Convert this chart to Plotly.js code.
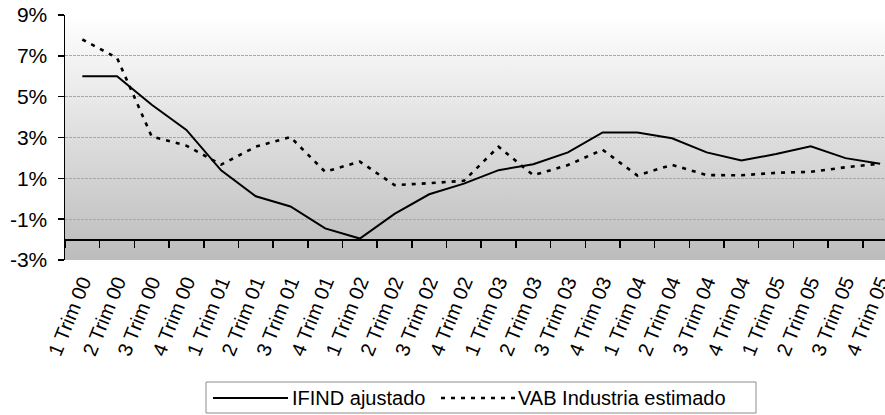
<!DOCTYPE html>
<html>
<head>
<meta charset="utf-8">
<script src="https://cdn.plot.ly/plotly-3.0.1.min.js"></script>
<style>
html,body{margin:0;padding:0;background:#fff;overflow:hidden;}
#chart{width:885px;height:415px;}
</style>
</head>
<body>
<div id="chart"></div>
<script>
const categories = [
  "1 Trim 00","2 Trim 00","3 Trim 00","4 Trim 00",
  "1 Trim 01","2 Trim 01","3 Trim 01","4 Trim 01",
  "1 Trim 02","2 Trim 02","3 Trim 02","4 Trim 02",
  "1 Trim 03","2 Trim 03","3 Trim 03","4 Trim 03",
  "1 Trim 04","2 Trim 04","3 Trim 04","4 Trim 04",
  "1 Trim 05","2 Trim 05","3 Trim 05","4 Trim 05"
];
const ifindAjustado = [6.0, 6.0, 4.6, 3.37, 1.39, 0.12, -0.38, -1.45, -1.95, -0.74, 0.22, 0.74,
  1.40, 1.69, 2.27, 3.25, 3.25, 2.96, 2.27, 1.87, 2.19, 2.57, 1.99, 1.71];
const vabIndustria = [7.8, 6.9, 3.05, 2.6, 1.67, 2.55, 3.02, 1.32, 1.82, 0.67, 0.76, 0.88,
  2.55, 1.15, 1.65, 2.4, 1.14, 1.66, 1.16, 1.15, 1.27, 1.32, 1.54, 1.72];
const seriesNames = ["IFIND ajustado", "VAB Industria estimado"];
const yTicks = [-3, -1, 1, 3, 5, 7, 9];
const yTickText = yTicks.map(v => v + "%");

const grad = '<svg xmlns="http://www.w3.org/2000/svg" width="100" height="100" viewBox="0 0 100 100" preserveAspectRatio="none">' +
  '<defs><linearGradient id="g" x1="0" y1="0" x2="0" y2="1">' +
  '<stop offset="0" stop-color="#ffffff"/><stop offset="1" stop-color="#bcbcbc"/>' +
  '</linearGradient></defs><rect x="0" y="0" width="100" height="100" fill="url(#g)"/></svg>';
const gradSrc = 'data:image/svg+xml;base64,' + btoa(grad);

const FAM = 'Arial, "Liberation Sans", sans-serif';
const solidStyle = {color: '#000', width: 2};
const dotStyle = {color: '#000', width: 2.6, dash: '4px,6px'};

const traces = [
  {x: categories, y: ifindAjustado, name: seriesNames[0], type: 'scatter', mode: 'lines', line: solidStyle},
  {x: categories, y: vabIndustria, name: seriesNames[1], type: 'scatter', mode: 'lines', line: dotStyle}
];

// custom legend (plot area: left 65, width 820, top 15, height 245)
const M = {l: 65, r: 0, t: 15, b: 155};
const PW = 885 - M.l - M.r, PH = 415 - M.t - M.b;
const px = v => (v - M.l) / PW;
const py = v => (415 - M.b - v) / PH;
const legY = 398;

const shapes = [
  {type: 'rect', xref: 'paper', yref: 'paper', x0: px(206), x1: px(756), y0: py(382), y1: py(413),
   line: {color: '#8c8c8c', width: 1}, fillcolor: '#fff', layer: 'above'},
  {type: 'line', xref: 'paper', yref: 'paper', x0: px(213), x1: px(288), y0: py(legY), y1: py(legY),
   line: solidStyle, layer: 'above'},
  {type: 'line', xref: 'paper', yref: 'paper', x0: px(441), x1: px(516), y0: py(legY), y1: py(legY),
   line: {color: '#000', width: 2.6, dash: '4px,6px'}, layer: 'above'}
];
const annotations = [
  {xref: 'paper', yref: 'paper', x: px(290), y: py(legY), xanchor: 'left', yanchor: 'middle',
   text: seriesNames[0], showarrow: false, font: {family: FAM, size: 20, color: '#000'}},
  {xref: 'paper', yref: 'paper', x: px(516), y: py(legY), xanchor: 'left', yanchor: 'middle',
   text: seriesNames[1], showarrow: false, font: {family: FAM, size: 20, color: '#000'}}
];

const layout = {
  width: 885, height: 415,
  margin: M,
  paper_bgcolor: '#fff',
  plot_bgcolor: 'rgba(0,0,0,0)',
  font: {family: FAM, size: 20, color: '#000'},
  showlegend: false,
  shapes: shapes,
  annotations: annotations,
  images: [{
    source: gradSrc, xref: 'paper', yref: 'paper', x: 0, y: 1,
    sizex: 1, sizey: 1, sizing: 'stretch', layer: 'below', xanchor: 'left', yanchor: 'top'
  }],
  xaxis: {
    type: 'category',
    categoryorder: 'array', categoryarray: categories,
    range: [-0.5, 23.14],
    anchor: 'free', position: 1/12,
    showline: true, linecolor: '#000', linewidth: 2,
    ticks: 'outside', tickson: 'boundaries', ticklen: 7, tickwidth: 1.5, tickcolor: '#000',
    tickangle: -68,
    ticklabelstandoff: 22,
    tickfont: {family: FAM, size: 20, color: '#000'},
    showgrid: false, zeroline: false
  },
  yaxis: {
    range: [-3, 9],
    tickvals: yTicks, ticktext: yTickText,
    showline: true, linecolor: '#000', linewidth: 1.5,
    ticks: 'outside', ticklen: 6, tickwidth: 1.5, tickcolor: '#000',
    ticklabelstandoff: 6,
    tickfont: {family: FAM, size: 21, color: '#000'},
    showgrid: true, gridcolor: '#a8a8a8', gridwidth: 1, griddash: '3px,1px',
    zeroline: false
  }
};

Plotly.newPlot('chart', traces, layout, {displayModeBar: false, staticPlot: true});
</script>
</body>
</html>
